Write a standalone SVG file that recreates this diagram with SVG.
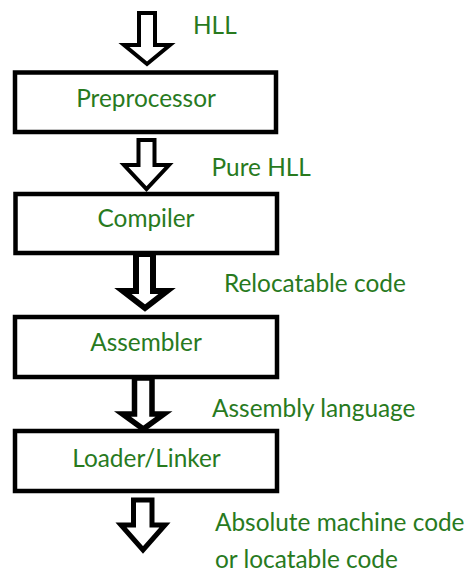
<svg xmlns="http://www.w3.org/2000/svg" width="474" height="583" viewBox="0 0 474 583">
<style>
.box{fill:#fff;stroke:#000;stroke-width:4.5}
.arr{fill:#fff;stroke:#000;stroke-linejoin:miter;stroke-miterlimit:10}
.t{font-family:Lato,"Liberation Sans",sans-serif;font-size:24.4px;fill:#287a1e}
.c{text-anchor:middle}
</style>
<rect width="474" height="583" fill="#fff"/>
<g id="connectors">
<path class="arr" stroke-width="4" d="M139,13 H155 V45 H170 L147,64 L124,45 H139 Z"/>
<path class="arr" stroke-width="4" d="M138.5,140 H154.5 V165 H169 L146.5,189 L124,165 H138.5 Z"/>
<path class="arr" stroke-width="6" d="M136,254 H153 V291 H167 L145,308 L123,291 H136 Z"/>
<path class="arr" stroke-width="5.5" d="M134.5,378 H152 V414 H164 L143.3,429 L122.5,414 H134.5 Z"/>
<path class="arr" stroke-width="5" d="M133.5,500 H152 V525 H165 L143,550 L121,525 H133.5 Z"/>
</g>
<g id="label-hll"><text class="t" x="193" y="34">HLL</text></g>
<g id="preprocessor">
<rect class="box" x="15" y="72.5" width="261" height="59.5"/>
<text class="t c" x="146" y="106.5">Preprocessor</text>
</g>
<g id="label-pure-hll"><text class="t" x="211.5" y="176">Pure HLL</text></g>
<g id="compiler">
<rect class="box" x="15.5" y="194" width="261.5" height="59"/>
<text class="t c" x="146" y="227">Compiler</text>
</g>
<g id="label-relocatable"><text class="t" x="224" y="292">Relocatable code</text></g>
<g id="assembler">
<rect class="box" x="15" y="317" width="262" height="60"/>
<text class="t c" x="146" y="351">Assembler</text>
</g>
<g id="label-assembly"><text class="t" x="212" y="417">Assembly language</text></g>
<g id="loader-linker">
<rect class="box" x="15" y="431" width="262" height="60"/>
<text class="t c" x="146.5" y="467">Loader/Linker</text>
</g>
<g id="label-absolute">
<text class="t" x="215" y="531">Absolute machine code</text>
<text class="t" x="215" y="568">or locatable code</text>
</g>
</svg>
